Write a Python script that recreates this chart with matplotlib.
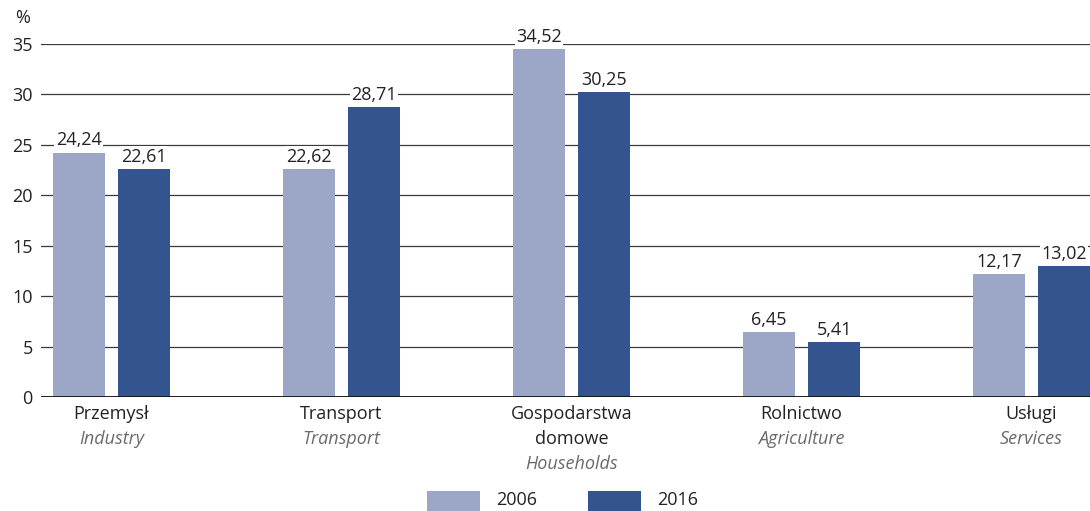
import numpy as np
import matplotlib
matplotlib.use('Agg')
import matplotlib.pyplot as plt
from matplotlib.patches import Rectangle

plt.rcParams['font.family'] = ['Open Sans', 'DejaVu Sans']

# data
categories_pl = ['Przemysł', 'Transport', 'Gospodarstwa\ndomowe', 'Rolnictwo', 'Usługi']
categories_en = ['Industry', 'Transport', 'Households', 'Agriculture', 'Services']
values_2006 = [24.24, 22.62, 34.52, 6.45, 12.17]
values_2016 = [22.61, 28.71, 30.25, 5.41, 13.02]
years = ['2006', '2016']

c_light = '#9ca6c7'
c_dark = '#33548e'

fig = plt.figure(figsize=(10.9, 5.11), dpi=100)
ax = fig.add_axes([0.0376, 0.2231, 0.9624, 0.6908])

x = np.arange(len(categories_pl))
off = 0.142
w = 0.226
b1 = ax.bar(x - off, values_2006, w, color=c_light, zorder=3)
b2 = ax.bar(x + off, values_2016, w, color=c_dark, zorder=3)

def fmt(v):
    return ('%.2f' % v).replace('.', ',')

for bars, vals in ((b1, values_2006), (b2, values_2016)):
    for b, v in zip(bars, vals):
        ax.text(b.get_x() + b.get_width() / 2, v + 0.3, fmt(v), ha='center', va='bottom',
                fontsize=13, color='#222222', zorder=4,
                bbox=dict(facecolor='white', edgecolor='none', pad=1))

ax.set_xlim(-0.3065, 4.254)
ax.set_ylim(0, 35)
ax.set_yticks(range(0, 36, 5))
ax.yaxis.grid(True, color='#3a3a3a', linewidth=0.9, zorder=0)
ax.set_axisbelow(True)
for s in ax.spines.values():
    s.set_visible(False)
ax.axhline(0, color='#111111', linewidth=1.3, zorder=5)
ax.tick_params(axis='y', length=0, pad=6, labelsize=13, labelcolor='#222222')
ax.set_xticks([])

# category labels
for i in x:
    ax.text(i, -0.8, categories_pl[i], ha='center', va='top', fontsize=13,
            color='#222222', linespacing=1.5)
    yy = -3.3 if '\n' not in categories_pl[i] else -5.8
    ax.text(i, yy, categories_en[i], ha='center', va='top', fontsize=13,
            color='#6a6a6a', style='italic')

fig.text(0.0138, 0.965, '%', fontsize=13, color='#222222', ha='left', va='center')

# legend
for lx, tx, col, lab in ((0.3917, 0.4555, c_light, years[0]), (0.5394, 0.6030, c_dark, years[1])):
    fig.add_artist(Rectangle((lx, -0.01), 0.0486, 0.05, transform=fig.transFigure,
                             facecolor=col, edgecolor='none'))
    fig.text(tx, 0.022, lab, fontsize=13, color='#222222', ha='left', va='center')

fig.savefig('out.png', dpi=100)
